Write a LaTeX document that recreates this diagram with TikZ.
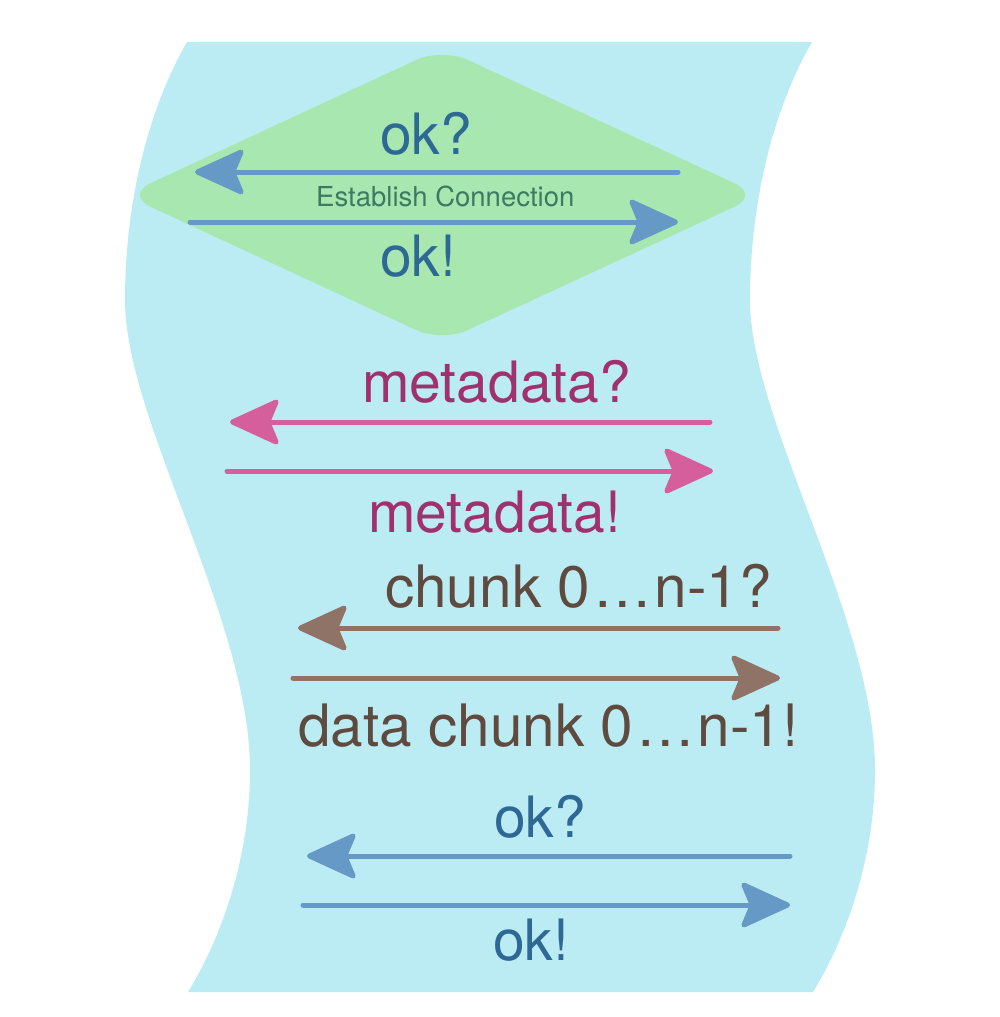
\documentclass[tikz,border=0pt]{standalone}
\usepackage{fontspec}
\setmainfont{TeX Gyre Heros}
\usetikzlibrary{arrows.meta}
\definecolor{bgc}{HTML}{BCECF3}
\definecolor{greenc}{HTML}{A8E8B0}
\definecolor{bluea}{HTML}{6699C6}
\definecolor{bluet}{HTML}{2E6894}
\definecolor{greent}{HTML}{3C7A62}
\definecolor{pinka}{HTML}{D55E9D}
\definecolor{pinkt}{HTML}{A1306F}
\definecolor{browna}{HTML}{8E7366}
\definecolor{brownt}{HTML}{5E4A3F}
\newcommand\wideell{\kern3pt…\kern3pt}
\begin{document}
\begin{tikzpicture}[x=1pt,y=-1pt,
  msg/.style={line width=5pt, line cap=round,
    -{Stealth[length=54pt,width=49pt,inset=10pt,round]}},
  big/.style={font=\fontsize{57}{60}\selectfont, anchor=base west, inner sep=0pt},
  bigc/.style={font=\fontsize{58.5}{60}\selectfont, anchor=base west, inner sep=0pt},
  small/.style={font=\fontsize{27.5}{30}\selectfont, anchor=base west, inner sep=0pt},
]
\useasboundingbox (0,0) rectangle (1000,1017);
% background band
\fill[bgc] (187,42) -- (812,42)
  .. controls (770,115) and (750,210) .. (750,300)
  .. controls (750,420) and (875,620) .. (875,770)
  .. controls (875,860) and (845,940) .. (813,992)
  -- (188,992)
  .. controls (220,940) and (250,860) .. (250,770)
  .. controls (250,620) and (125,420) .. (125,300)
  .. controls (125,210) and (145,115) .. (187,42) -- cycle;
% diamond
\fill[greenc, rounded corners=28pt] (283.5,121.5) -- (442,48) -- (760,195) -- (442,342) -- (125,195) -- cycle;

% texts
\node[big, text=bluet] (okq1) at (380,154) {ok?};
\node[big, text=bluet] (oke1) at (380,276) {ok!};
\node[small, text=greent] (est) at (316,206) {Establish Connection};
\node[big, text=pinkt] (mdq) at (362,402) {metadata?};
\node[big, text=pinkt] (mde) at (368,532) {metadata!};
\node[bigc, text=brownt] (chq) at (385,607) {chunk 0\wideell n-1?};
\node[bigc, text=brownt] (che) at (298,746) {data chunk 0\wideell n-1!};
\node[big, text=bluet] (okq2) at (494,837) {ok?};
\node[big, text=bluet] (oke2) at (493,960) {ok!};

% arrow ends
\coordinate (a1s) at (678,172); \coordinate (a1e) at (195,172);
\coordinate (a2s) at (190,222); \coordinate (a2e) at (678,222);
\coordinate (b1s) at (710,422); \coordinate (b1e) at (230,422);
\coordinate (b2s) at (227,471); \coordinate (b2e) at (713,471);
\coordinate (c1s) at (778,628); \coordinate (c1e) at (298,628);
\coordinate (c2s) at (293,678); \coordinate (c2e) at (780,678);
\coordinate (d1s) at (790,856); \coordinate (d1e) at (307,856);
\coordinate (d2s) at (303,905); \coordinate (d2e) at (790,905);

\draw[msg, bluea] (a1s) -- (a1e);
\draw[msg, bluea] (a2s) -- (a2e);
\draw[msg, pinka] (b1s) -- (b1e);
\draw[msg, pinka] (b2s) -- (b2e);
\draw[msg, browna] (c1s) -- (c1e);
\draw[msg, browna] (c2s) -- (c2e);
\draw[msg, bluea] (d1s) -- (d1e);
\draw[msg, bluea] (d2s) -- (d2e);
\end{tikzpicture}
\end{document}
